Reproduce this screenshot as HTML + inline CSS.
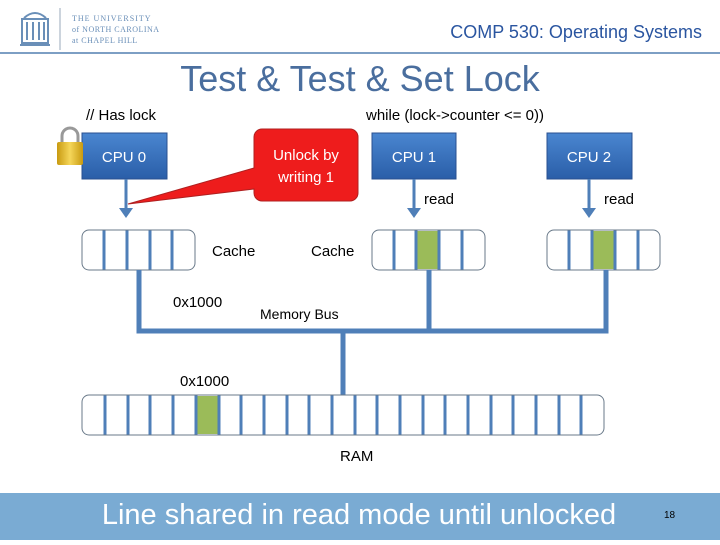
<!DOCTYPE html>
<html><head><style>
body{margin:0;width:720px;height:540px;overflow:hidden;background:#fff;font-family:"Liberation Sans",sans-serif}
</style></head><body>
<svg width="720" height="540" viewBox="0 0 720 540" xmlns="http://www.w3.org/2000/svg" font-family="Liberation Sans, sans-serif">
<defs>
<linearGradient id="cpu" x1="0" y1="0" x2="0" y2="1"><stop offset="0" stop-color="#4a86d0"/><stop offset="1" stop-color="#2a5ea8"/></linearGradient>
<linearGradient id="lk" x1="0" y1="0" x2="1" y2="0"><stop offset="0" stop-color="#c89a10"/><stop offset="0.5" stop-color="#f5d65a"/><stop offset="1" stop-color="#c89a10"/></linearGradient>
</defs>
<g stroke="#6a8fb8" fill="none" stroke-width="2">
<path d="M24 18 Q35 8 46 18"/><rect x="22" y="19" width="26" height="24"/><path d="M27 22v18M33 22v18M39 22v18M44 22v18"/><path d="M20 45h30"/>
</g>
<line x1="60" y1="8" x2="60" y2="50" stroke="#9ab" stroke-width="1"/>
<text x="72" y="21" font-family="Liberation Serif,serif" font-size="8" fill="#6a8fb8" letter-spacing="1">THE UNIVERSITY</text>
<text x="72" y="32" font-family="Liberation Serif,serif" font-size="8" fill="#6a8fb8" letter-spacing="0.5">of NORTH CAROLINA</text>
<text x="72" y="43" font-family="Liberation Serif,serif" font-size="8" fill="#6a8fb8" letter-spacing="0.5">at CHAPEL HILL</text>
<line x1="0" y1="53" x2="720" y2="53" stroke="#7d9fc4" stroke-width="2"/>
<text x="702" y="38" text-anchor="end" font-size="18" fill="#2a55a0">COMP 530: Operating Systems</text>
<text x="360" y="91" text-anchor="middle" font-size="36" fill="#4a6e9e">Test &amp; Test &amp; Set Lock</text>
<text x="86" y="120" font-size="15" fill="#000">// Has lock</text>
<text x="366" y="120" font-size="15" fill="#000">while (lock-&gt;counter &lt;= 0))</text>
<rect x="82" y="133" width="85" height="46" fill="url(#cpu)" stroke="#2a5090"/>
<text x="124" y="162" text-anchor="middle" font-size="15" fill="#fff">CPU 0</text>
<rect x="372" y="133" width="84" height="46" fill="url(#cpu)" stroke="#2a5090"/>
<text x="414" y="162" text-anchor="middle" font-size="15" fill="#fff">CPU 1</text>
<rect x="547" y="133" width="85" height="46" fill="url(#cpu)" stroke="#2a5090"/>
<text x="589" y="162" text-anchor="middle" font-size="15" fill="#fff">CPU 2</text>
<path d="M62 142 v-6 a8 8 0 0 1 16 0 v6" fill="none" stroke="#999" stroke-width="3"/>
<rect x="57" y="142" width="26" height="23" rx="2" fill="url(#lk)"/>
<g stroke="#4f7fb8" stroke-width="3" fill="#4f7fb8">
<line x1="126" y1="179" x2="126" y2="210"/><path d="M119 208h14l-7 10z" stroke="none"/>
<line x1="414" y1="179" x2="414" y2="210"/><path d="M407 208h14l-7 10z" stroke="none"/>
<line x1="589" y1="179" x2="589" y2="210"/><path d="M582 208h14l-7 10z" stroke="none"/>
</g>
<path d="M262 129 h88 a8 8 0 0 1 8 8 v56 a8 8 0 0 1 -8 8 h-88 a8 8 0 0 1 -8 -8 v-4 L128 204 L254 168 v-31 a8 8 0 0 1 8 -8z" fill="#ee1c1c" stroke="#b02020"/>
<text x="306" y="160" text-anchor="middle" font-size="15" fill="#fff">Unlock by</text>
<text x="306" y="182" text-anchor="middle" font-size="15" fill="#fff">writing 1</text>
<text x="424" y="204" font-size="15" fill="#000">read</text>
<text x="604" y="204" font-size="15" fill="#000">read</text>
<g stroke="#4f7fb8" stroke-width="3">
<rect x="416" y="231" width="23" height="38" fill="#9bbb59" stroke="none"/>
<rect x="592" y="231" width="23" height="38" fill="#9bbb59" stroke="none"/>
<path d="M104 230v40M127 230v40M150 230v40M172 230v40"/>
<path d="M394 230v40M416 230v40M439 230v40M462 230v40"/>
<path d="M569 230v40M592 230v40M615 230v40M638 230v40"/>
</g>
<g fill="none" stroke="#6a7a8a" stroke-width="1">
<rect x="82" y="230" width="113" height="40" rx="7"/>
<rect x="372" y="230" width="113" height="40" rx="7"/>
<rect x="547" y="230" width="113" height="40" rx="7"/>
</g>
<text x="212" y="256" font-size="15">Cache</text>
<text x="311" y="256" font-size="15">Cache</text>
<g stroke="#4f7fb8" stroke-width="5" fill="none">
<path d="M139 270V331H606V270M429 270V331M343 331V395"/>
</g>
<text x="173" y="307" font-size="15">0x1000</text>
<text x="260" y="319" font-size="14">Memory Bus</text>
<text x="180" y="386" font-size="15">0x1000</text>
<rect x="196" y="396" width="23" height="38" fill="#9bbb59"/>
<g stroke="#4f7fb8" stroke-width="3">
<path d="M105 395v40M128 395v40M150 395v40M173 395v40M196 395v40M219 395v40M241 395v40M264 395v40M287 395v40M309 395v40M332 395v40M355 395v40M377 395v40M400 395v40M423 395v40M445 395v40M468 395v40M491 395v40M513 395v40M536 395v40M559 395v40M581 395v40"/>
</g>
<rect x="82" y="395" width="522" height="40" rx="7" fill="none" stroke="#6a7a8a"/>
<text x="340" y="461" font-size="15">RAM</text>
<rect x="0" y="493" width="720" height="47" fill="#7aabd3"/>
<text x="359" y="524" text-anchor="middle" font-size="29" fill="#fff">Line shared in read mode until unlocked</text>
<text x="664" y="518" font-size="10" fill="#000">18</text>
</svg>
</body></html>
